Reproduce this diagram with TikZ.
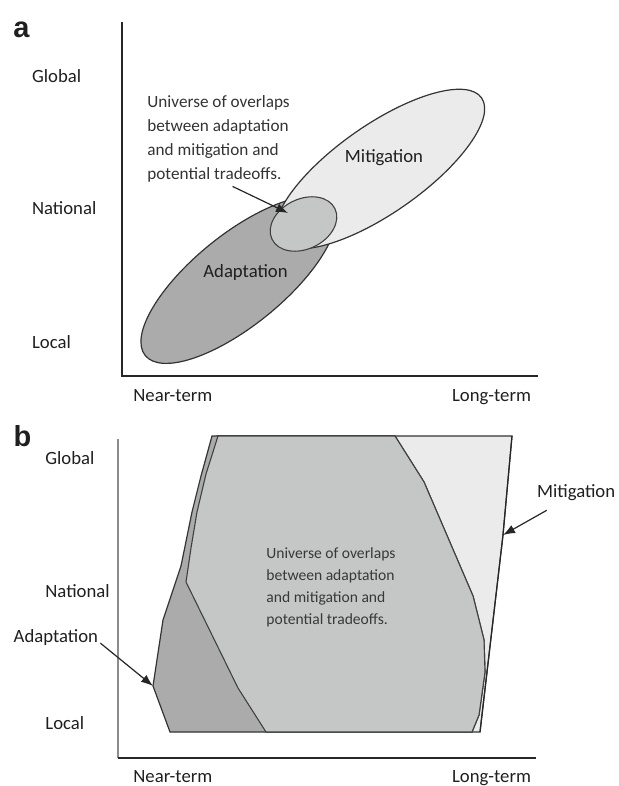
\documentclass[tikz,border=0pt]{standalone}
\usepackage{fontspec}
\setmainfont{Carlito}
\newfontfamily\panelfont{Liberation Sans}
\usetikzlibrary{arrows.meta}

\definecolor{adaptgray}{gray}{0.67}
\definecolor{mitigray}{gray}{0.92}
\definecolor{overgray}{RGB}{197,199,199}

\begin{document}
\begin{tikzpicture}[
  x=0.5pt, y=0.5pt,
  every node/.style={inner sep=0pt, text=black!88},
  axis/.style={line width=0.75pt, draw=black!85},
  lab/.style={font=\fontsize{9.35}{11}\selectfont, anchor=base west},
  ttl/.style={font=\panelfont\bfseries\fontsize{14.5}{15}\selectfont},
  notea/.style={font=\fontsize{8.6}{11.9}\selectfont, align=left, anchor=north west, text=black!80},
  noteb/.style={font=\fontsize{7.8}{11}\selectfont, align=left, anchor=north west, text=black!78},
  adapt/.style={fill=adaptgray, draw=black!80, line width=0.6pt},
  miti/.style={fill=mitigray, draw=black!80, line width=0.6pt},
  both/.style={fill=overgray, draw=black!75, line width=0.55pt},
  arr/.style={-{Latex[length=6pt,width=4.5pt]}, line width=0.6pt, draw=black!85},
]
  \useasboundingbox (0,0) rectangle (618,-786);
  % ============ a: ellipses ============
  \node[ttl] (ta) at (21.5,-29.5) {a};
  \draw[axis] (122,-22) -- (122,-376) -- (538,-376);
  \draw[adapt, rotate around={39:(238.5,-280)}] (238.5,-280) ellipse [x radius=120, y radius=45.5];
  \draw[miti, rotate around={35:(380,-169)}] (380,-169) ellipse [x radius=124, y radius=44];
  \draw[both, rotate around={26:(303.5,-224)}] (303.5,-224) ellipse [x radius=35, y radius=25];
  \node[font=\fontsize{9.35}{11}\selectfont, anchor=base] (adlab) at (245.5,-278) {Adaptation};
  \node[font=\fontsize{9.35}{11}\selectfont, anchor=base] (milab) at (384,-163) {Mitigation};
  \node[notea] (txta) at (147,-95.5) {Universe of overlaps\\between adaptation\\and mitigation and\\potential tradeoffs.};
  \coordinate (ovtip) at (288,-213);
  \draw[arr] ([shift={(14,-4)}]txta.south) -- (ovtip);
  \node[lab] (glba) at (31.7,-83) {Global};
  \node[lab] (nata) at (31.7,-214.5) {National};
  \node[lab] (loca) at (31.7,-348) {Local};
  \node[lab] (neara) at (133,-401) {Near-term};
  \node[lab] (longa) at (451.7,-401) {Long-term};
  % ============ b: polygons ============
  \node[ttl] (tb) at (22.5,-436) {b};
  \draw[axis, draw=black!45, line width=1pt] (118,-439) -- (118,-758);
  \draw[axis] (118,-758) -- (536,-758);
  \draw[miti] (217,-436) -- (512,-436) -- (503,-535) -- (480,-732) -- (266,-732) -- (238,-688)
    -- (186,-582) -- (191,-548) -- (197,-512) -- (206,-474) -- cycle;
  \draw[adapt] (212,-436) -- (395,-436) -- (424,-482) -- (473,-596) -- (484,-640) -- (485,-672)
    -- (479,-715) -- (472,-732) -- (170,-732) -- (153,-686) -- (163,-620) -- (181,-566)
    -- (192,-512) -- (201,-476) -- cycle;
  \draw[both] (218,-436) -- (395,-436) -- (424,-482) -- (473,-596) -- (484,-640) -- (485,-672)
    -- (479,-715) -- (472,-732) -- (266,-732) -- (238,-688) -- (186,-582) -- (191,-548)
    -- (197,-512) -- (206,-474) -- cycle;
  \draw[draw=black!85, line width=0.6pt] (512,-436) -- (503,-535) -- (480,-732);
  \node[noteb] (txtb) at (266,-547.5) {Universe of overlaps\\between adaptation\\and mitigation and\\potential tradeoffs.};
  \node[lab] (glbb) at (45,-464.5) {Global};
  \node[lab] (natb) at (45,-597) {National};
  \node[lab] (locb) at (45,-729) {Local};
  \node[lab] (nearb) at (133,-782.7) {Near-term};
  \node[lab] (longb) at (451.7,-782.7) {Long-term};
  \node[lab] (adlabb) at (13.3,-642.7) {Adaptation};
  \node[lab] (milabb) at (536.7,-497.7) {Mitigation};
  \coordinate (adtip) at (153,-686);
  \coordinate (mitip) at (503,-535);
  \draw[arr] ([shift={(2,3)}]adlabb.south east) -- (adtip);
  \draw[arr] ([shift={(10,-9)}]milabb.south west) -- (mitip);
\end{tikzpicture}
\end{document}
